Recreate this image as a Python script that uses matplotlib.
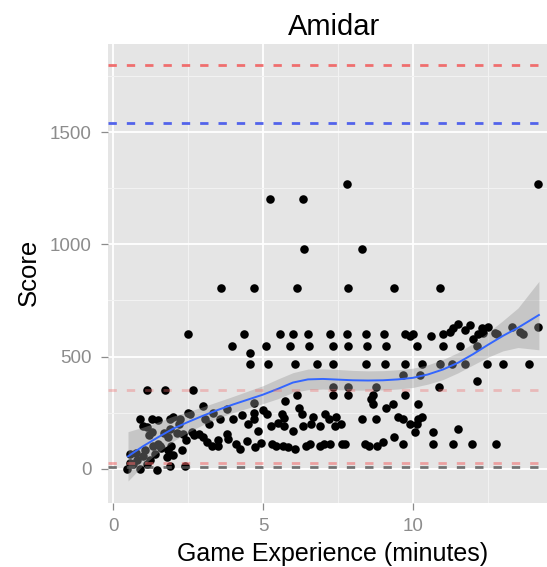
import matplotlib
matplotlib.use("Agg")
import matplotlib.pyplot as plt
import numpy as np

# ---------------- data ----------------
title = "Amidar"
x_label = "Game Experience (minutes)"
y_label = "Score"

x_ticks = [0, 5, 10]
y_ticks = [0, 500, 1000, 1500]

exp_minutes = [
    7.81, 14.16, 5.23, 6.32, 6.36, 8.29,
    3.6, 4.7, 6.12, 7.82, 9.37, 10.9,
    2.51, 4.37, 5.57, 6.01, 6.51, 7.23, 7.81, 8.42, 9.03, 9.73, 10.01, 11.01, 11.23,
    11.51, 11.73, 12.18, 12.51, 12.8, 13.29, 13.68, 14.18, 11.35, 12.35, 13.57,
    3.96, 4.57, 5.09, 5.90, 6.54, 7.34, 7.84, 8.46, 9.09, 10.12, 11.01, 11.57, 12.12,
    4.57, 5.18, 6.07, 6.79, 7.34, 8.42, 9.07, 9.73, 10.29, 10.9, 11.29, 11.73, 12.46,
    13.01, 13.88,
    9.68, 10.23, 12.12,
    1.12, 1.73, 2.66, 7.34, 7.84, 8.77, 10.88,
    6.12, 7.34, 7.84, 8.68, 9.72,
    5.73, 8.68, 9.34, 10.17, 4.71,
    4.71, 5.12, 5.62, 6.29, 6.68, 7.07, 7.42, 2.56, 3.34, 3.79, 3.01,
    0.9, 1.29, 1.9, 2.23, 3.07, 3.57, 4.01, 4.71, 5.71, 8.29, 8.77, 9.66, 10.17,
    5.26, 5.71, 6.34, 6.9, 7.4, 10.14, 1.12, 1.9,
    1.29, 2.34, 2.62, 2.88, 3.79, 10.07, 10.66, 11.51, 9.37,
    1.57, 1.84, 3.12, 3.51, 3.84, 4.23, 4.46, 4.73, 5.29, 5.68, 6.07, 6.57, 6.9, 7.23,
    7.62, 8.4, 8.79, 9.01, 9.66, 10.66, 11.34, 11.96, 12.77, 1.51,
    2.29, 1.84,
    0.57, 1.01, 1.4, 1.79,
    0.46, 0.9, 1.46, 1.9, 2.4, 0.68, 1.12,
    4.95, 5.45, 5.85, 6.45, 7.05, 7.75, 8.55, 3.3, 4.1, 3.0, 2.7, 2.15, 2.45, 1.2,
    1.7, 0.75, 1.25, 1.6, 2.0, 0.55, 0.8, 1.05, 1.35, 1.95, 2.2, 2.0, 1.5, 1.0, 2.5,
    3.2, 3.5, 4.3, 4.5, 4.85, 5.0, 5.5, 6.0, 6.2, 6.6, 7.2, 7.6, 8.6, 9.1, 9.5, 9.9,
    10.3, 12.0, 11.9, 12.3, 10.6, 9.9, 12.73,
]
scores = [
    1271, 1271, 1201, 1201, 978, 978,
    807, 807, 807, 807, 807, 807,
    600, 600, 600, 600, 600, 600, 600, 600, 600, 600, 600, 600, 610,
    646, 616, 600, 631, 600, 631, 600, 631, 625, 605, 608,
    549, 515, 549, 549, 549, 549, 549, 549, 549, 549, 549, 549, 549,
    467, 467, 467, 467, 467, 467, 467, 467, 467, 467, 467, 467, 467,
    467, 467,
    418, 418, 390,
    350, 350, 350, 363, 363, 363, 366,
    330, 330, 330, 330, 330,
    300, 290, 287, 287, 291,
    250, 243, 243, 243, 229, 243, 229, 243, 250, 265, 281,
    222, 222, 222, 222, 222, 222, 222, 222, 225, 222, 222, 222, 222,
    192, 192, 192, 192, 192, 199, 184, 177,
    162, 155, 162, 155, 155, 162, 162, 177, 142,
    103, 140, 117, 103, 134, 89, 125, 95, 110, 103, 89, 110, 103, 110,
    110, 110, 103, 117, 110, 110, 110, 110, 110, 110,
    82, 82,
    65, 58, 65, 51,
    0, 0, -7, 13, 13, 20, 20,
    115, 103, 95, 103, 110, 110, 103, 103, 110, 140, 150, 160, 130, 150,
    160, 70, 40, 90, 60, 25, 40, 85, 100, 100, 200, 230, 215, 190, 250,
    200, 130, 240, 200, 170, 260, 205, 170, 270, 200, 220, 200, 310, 270, 230, 200,
    230, 580, 640, 625, 590, 590, 603,
]

# smoothed fit (loess line and its confidence band)
smooth_x = [0.5, 1.0, 1.5, 2.0, 2.5, 3.0, 3.5, 4.0, 4.5, 5.0, 5.5, 6.0, 6.5, 7.0,
            7.5, 8.0, 8.5, 9.0, 9.5, 10.0, 10.5, 11.0, 11.5, 12.0, 12.5, 13.0,
            13.5, 14.2]
smooth_fit = [55, 100, 140, 178, 208, 236, 262, 286, 308, 330, 356, 384, 398, 400,
              397, 394, 393, 394, 398, 405, 420, 442, 472, 510, 552, 592, 628, 685]
smooth_lo = [-55, 15, 72, 122, 162, 196, 225, 250, 270, 290, 312, 340, 352, 355,
             352, 350, 350, 351, 355, 362, 377, 397, 427, 462, 497, 525, 540, 530]
smooth_hi = [165, 185, 208, 234, 254, 276, 299, 322, 346, 370, 400, 428, 444, 445,
             442, 438, 436, 437, 441, 448, 463, 487, 517, 558, 607, 660, 716, 835]

ref_levels = [1800, 1540, 350, 26, 7]
ref_colors = ["#F06868", "#4A5CEB", "#F06868", "#F06868", "#555555"]
ref_alpha = [0.95, 0.95, 0.35, 0.55, 0.8]

# ---------------- figure ----------------
W, H = 547, 567
fig = plt.figure(figsize=(W / 100, H / 100), dpi=100)
ax = fig.add_axes([108 / W, 1 - 503 / H, (547 - 108) / W, (503 - 44) / H])

font = "Liberation Sans"
ax.set_facecolor("#E5E5E5")
for s in ax.spines.values():
    s.set_visible(False)

ax.set_xlim(-0.167, 14.47)
ax.set_ylim(-153, 1893)
ax.set_xticks(x_ticks)
ax.set_yticks(y_ticks)
ax.set_xticks([2.5, 7.5, 12.5], minor=True)
ax.set_yticks([250, 750, 1250, 1750], minor=True)
ax.grid(True, which="major", color="white", linewidth=1.3)
ax.grid(True, which="minor", color="#F2F2F2", linewidth=0.8)
ax.set_axisbelow(True)
ax.tick_params(which="minor", length=0)
ax.tick_params(which="major", direction="out", length=5, width=0.9,
               color="#8C8C8C", labelcolor="#8C8C8C", labelsize=13.5)
ax.tick_params(axis="y", pad=7)
ax.tick_params(axis="x", pad=6)
for lab in ax.get_xticklabels() + ax.get_yticklabels():
    lab.set_fontfamily(font)

ax.scatter(exp_minutes, scores, s=38, color="black", linewidths=0, zorder=3)

ax.fill_between(smooth_x, smooth_lo, smooth_hi, color="#999999", alpha=0.4,
                linewidth=0, zorder=4)
ax.plot(smooth_x, smooth_fit, color="#3366FF", linewidth=1.4, zorder=5)

for lvl, c, a in zip(ref_levels, ref_colors, ref_alpha):
    ax.axhline(lvl, color=c, alpha=a, linewidth=2.0, dashes=(3.0, 3.6), zorder=6)

fig.text(334 / W, 1 - 35 / H, title, ha="center", va="baseline",
         fontsize=21, fontfamily=font, color="black")
fig.text(333 / W, 1 - 561 / H, x_label, ha="center", va="baseline",
         fontsize=18, fontfamily=font, color="black")
fig.text(29 / W, 1 - 272 / H, y_label, ha="center", va="center", rotation=90,
         fontsize=18.5, fontfamily=font, color="black")

fig.savefig("out.png", dpi=100)
